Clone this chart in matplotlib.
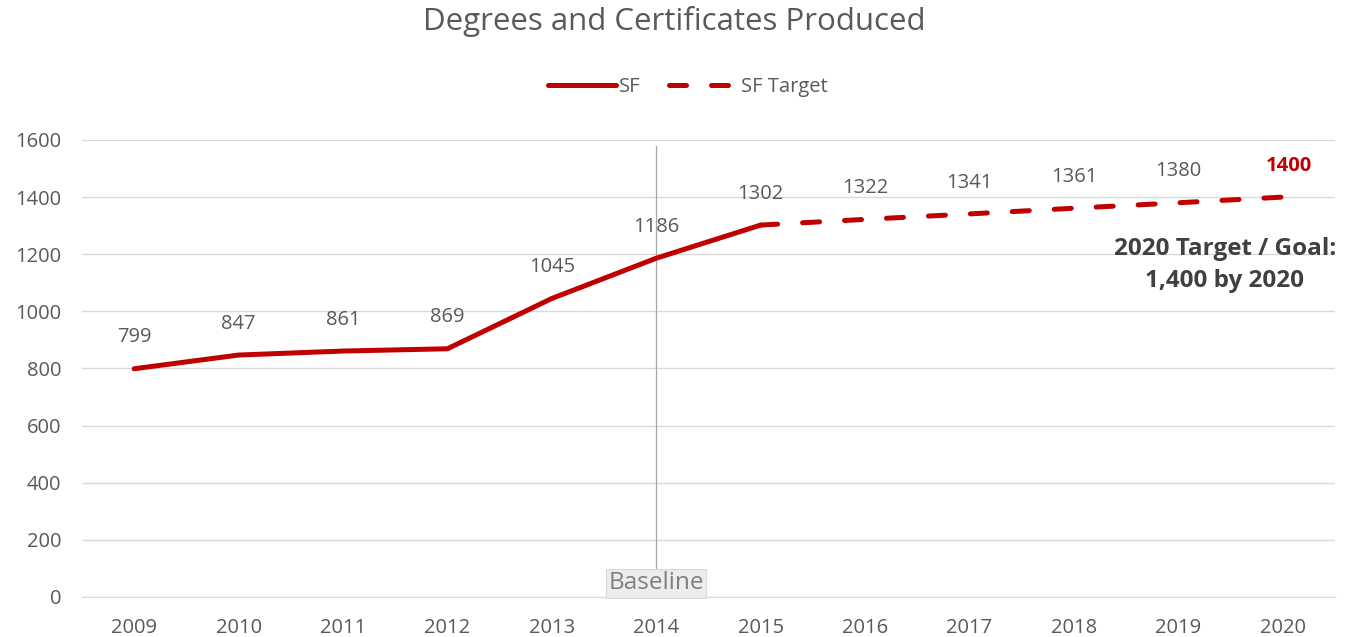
import numpy as np
import matplotlib.pyplot as plt

plt.rcParams['font.family'] = ['Open Sans', 'DejaVu Sans']

# --- DATA ----------------------------------------------------------
years = ["2009", "2010", "2011", "2012", "2013", "2014", "2015",
         "2016", "2017", "2018", "2019", "2020"]
sf_values = [799, 847, 861, 869, 1045, 1186, 1302]
target_values = [1302, 1322, 1341, 1361, 1380, 1400]
baseline_year = "2014"

red = "#C00000"
grey = "#595959"

fig = plt.figure(figsize=(13.48, 6.37), dpi=100)
ax = fig.add_axes([0.0608, 0.0628, 0.9295, 0.7175])

x = np.arange(len(years))
x_sf = x[:len(sf_values)]
x_tg = x[len(sf_values) - 1:]

ax.plot(x_sf, sf_values, color=red, lw=3.6, solid_capstyle="round",
        label="SF", zorder=3)
ax.plot(x_tg, target_values, color=red, lw=3.6, dashes=(3.4, 5.0),
        dash_capstyle="round", label="SF Target", zorder=3)

# data labels
for xi, v in zip(x_sf, sf_values):
    ax.text(xi, v + 75, str(v), ha="center", va="bottom",
            fontsize=14.5, color=grey)
for xi, v in zip(x_tg[1:], target_values[1:]):
    if xi == x[-1]:
        ax.text(xi + 0.06, v + 75, str(v), ha="center", va="bottom",
                fontsize=14.5, color=red, fontweight="bold")
    else:
        ax.text(xi, v + 75, str(v), ha="center", va="bottom",
                fontsize=14.5, color=grey)

# baseline marker
bx = years.index(baseline_year)
ax.plot([bx, bx], [95, 1580], color="#A6A6A6", lw=0.9, zorder=1)
ax.text(bx, 48, "Baseline", ha="center", va="center", fontsize=17.5,
        color="#7F7F7F",
        bbox=dict(boxstyle="square,pad=0.1", fc="#EDEDED", ec="#D9D9D9",
                  lw=0.8))

ax.text(10.445, 1163, "2020 Target / Goal:\n1,400 by 2020", ha="center",
        va="center", multialignment="center", fontsize=17.5,
        fontweight="bold", color="#404040", linespacing=1.45)

ax.set_xlim(-0.5, len(years) - 0.5)
ax.set_ylim(0, 1600)
ax.set_yticks(range(0, 1601, 200))
ax.set_xticks(x)
ax.set_xticklabels(years)
ax.grid(axis="y", color="#D9D9D9", lw=1.0)
ax.set_axisbelow(True)
for s in ax.spines.values():
    s.set_visible(False)
ax.spines["bottom"].set_visible(True)
ax.spines["bottom"].set_color("#D9D9D9")
ax.tick_params(length=0, labelsize=14.5, colors=grey)
ax.tick_params(axis="x", pad=15)
ax.tick_params(axis="y", pad=15)

fig.suptitle("Degrees and Certificates Produced", y=0.99, fontsize=22.5,
             color=grey)
fig.legend(loc="center", bbox_to_anchor=(0.51, 0.863), ncol=2,
           frameon=False, fontsize=14.5, labelcolor=grey, handlelength=3.4,
           columnspacing=1.4, handletextpad=0.15)

plt.savefig("out.png", dpi=100)
